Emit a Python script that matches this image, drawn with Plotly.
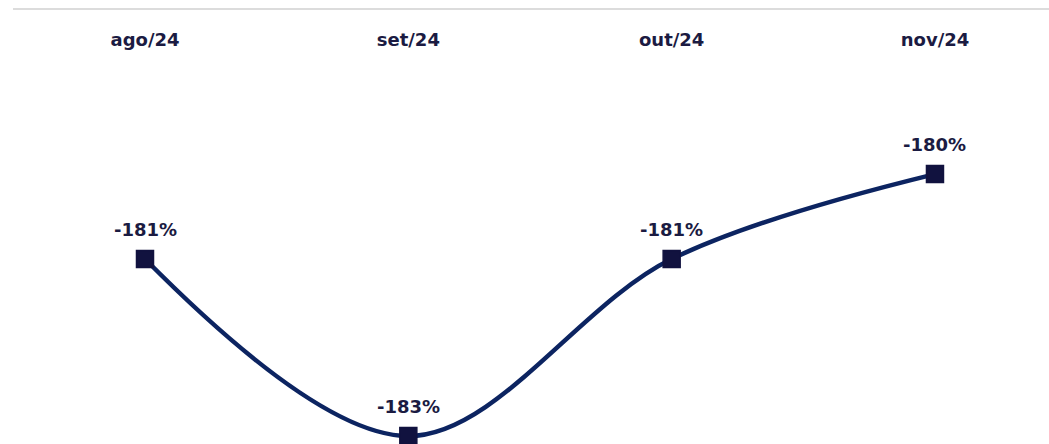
import plotly.graph_objects as go

months = ["ago/24", "set/24", "out/24", "nov/24"]
values = [-181.0, -183.0, -181.0, -180.04]
labels = ["-181%", "-183%", "-181%", "-180%"]

x_pos = list(range(len(months)))
FONT = "DejaVu Sans"

fig = go.Figure()
fig.add_trace(go.Scatter(
    x=x_pos, y=values, mode="lines+markers",
    line=dict(color="#0c2461", width=4.5, shape="spline", smoothing=1.0),
    marker=dict(symbol="square", size=17, color="#11123f",
                line=dict(color="#11123f", width=1.5)),
    cliponaxis=False, hoverinfo="skip",
))

for xi, yi, lab in zip(x_pos, values, labels):
    fig.add_annotation(x=xi, y=yi, text=lab, showarrow=False, yshift=30,
                       font=dict(family=FONT, size=18, color="#1b1b42", weight="bold"))

fig.update_layout(
    width=1049, height=444,
    margin=dict(l=13, r=0, t=10, b=0, autoexpand=False),
    paper_bgcolor="white", plot_bgcolor="white",
    showlegend=False,
    xaxis=dict(
        side="top", range=[-0.5013, 3.433], automargin=False,
        tickmode="array", tickvals=x_pos, ticktext=months,
        showgrid=False, zeroline=False,
        showline=True, linecolor="#dcdcdc", linewidth=2,
        ticks="", ticklabelposition="inside", ticklabelstandoff=24,
        tickfont=dict(family=FONT, size=18, color="#1b1b42", weight="bold"),
    ),
    yaxis=dict(range=[-183.09, -178.186], visible=False, showgrid=False,
               zeroline=False, automargin=False),
)

fig.write_html("out.html", config={"displayModeBar": False},
               post_script="document.body.style.margin='0';")
